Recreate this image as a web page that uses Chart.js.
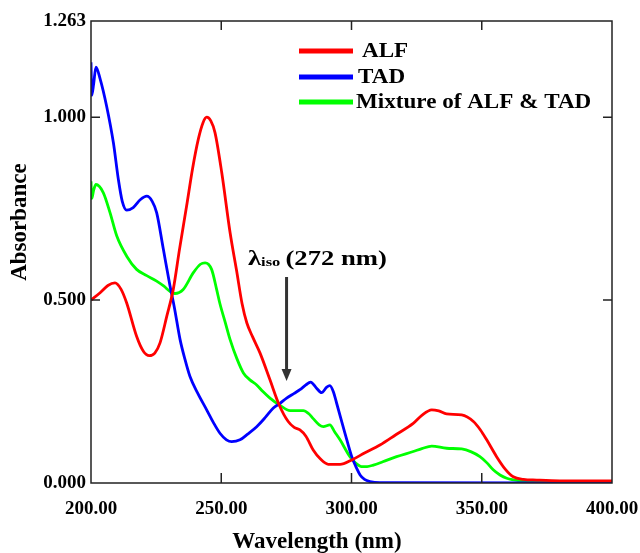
<!DOCTYPE html>
<html>
<head>
<meta charset="utf-8">
<script src="https://cdn.jsdelivr.net/npm/chart.js@4.4.1/dist/chart.umd.min.js"></script>
<style>
    html, body { margin: 0; padding: 0; background: #fff; }
</style>
</head>
<body>
<canvas id="chart" width="640" height="553"></canvas>
<script>
// data
const alfWl = [200, 203.5, 206.5, 209.2, 211.5, 213.7, 217.5, 220.1, 222.4, 224.5, 226.5, 229.1, 231.6, 234, 236.7, 239, 241.2, 243, 244.4, 246, 247.6, 250.2, 253.4, 255.9, 258, 259.8, 262, 264.9, 268.7, 272.2, 275.7, 278, 280.2, 282.5, 285.3, 288, 291.1, 295.6, 300.1, 305, 310.9, 317, 323.7, 327, 330.8, 333.5, 336.5, 342.3, 346.8, 349.5, 351.9, 355.7, 359, 362.1, 366, 371.1, 380, 400]
const alfAbs = [0.50, 0.52, 0.54, 0.547, 0.53, 0.492, 0.401, 0.36, 0.348, 0.355, 0.383, 0.456, 0.53, 0.64, 0.757, 0.86, 0.94, 0.985, 1.0, 0.99, 0.958, 0.848, 0.684, 0.58, 0.49, 0.438, 0.40, 0.355, 0.282, 0.214, 0.168, 0.152, 0.145, 0.128, 0.090, 0.066, 0.051, 0.051, 0.063, 0.082, 0.104, 0.132, 0.163, 0.185, 0.200, 0.197, 0.189, 0.186, 0.168, 0.145, 0.118, 0.072, 0.038, 0.017, 0.010, 0.008, 0.006, 0.006]

const tadWl = [200, 200.3, 201, 201.9, 203.5, 206, 208.6, 210.5, 212, 213.7, 216.2, 219, 221.4, 223.5, 225.2, 227.8, 230.3, 232, 234.2, 236, 238, 241, 244.4, 247, 249.5, 252, 254, 257.2, 260, 263.6, 267, 270, 272.6, 275.1, 278, 280.2, 282.5, 284.3, 286.5, 288.5, 290.5, 291.7, 293, 294.3, 297.5, 300.1, 302, 303.3, 305, 307.1, 310.9, 400]
const tadAbs = [1.15, 1.06, 1.09, 1.137, 1.105, 1.03, 0.93, 0.83, 0.77, 0.746, 0.753, 0.775, 0.784, 0.77, 0.739, 0.638, 0.54, 0.48, 0.392, 0.34, 0.291, 0.245, 0.2, 0.165, 0.136, 0.118, 0.113, 0.118, 0.133, 0.154, 0.18, 0.205, 0.218, 0.232, 0.245, 0.255, 0.268, 0.276, 0.26, 0.247, 0.262, 0.266, 0.25, 0.218, 0.136, 0.072, 0.04, 0.022, 0.01, 0.004, 0.001, 0]

const mixWl = [200, 200.3, 201, 201.9, 204.7, 207.3, 209.9, 213.7, 217.5, 221.4, 225.2, 228, 230.3, 232.2, 235.4, 239.3, 242, 243.8, 246.3, 248.2, 249.5, 251.5, 253.4, 256, 258.5, 261, 263.6, 266, 268.7, 272.6, 276.4, 279, 281.5, 283.5, 285.3, 287.6, 289.2, 291.7, 293.5, 295.6, 299.4, 301.5, 303.9, 306, 308.4, 312, 317.3, 323.7, 327, 330.8, 336.5, 342.3, 346, 349.3, 352, 354.4, 357, 359.6, 364.7, 370, 400]
const mixAbs = [0.825, 0.778, 0.80, 0.816, 0.794, 0.739, 0.675, 0.62, 0.584, 0.567, 0.552, 0.538, 0.524, 0.518, 0.529, 0.575, 0.598, 0.602, 0.584, 0.53, 0.49, 0.44, 0.392, 0.34, 0.301, 0.282, 0.268, 0.25, 0.232, 0.212, 0.198, 0.198, 0.198, 0.19, 0.176, 0.159, 0.154, 0.159, 0.14, 0.118, 0.072, 0.055, 0.045, 0.045, 0.049, 0.058, 0.072, 0.086, 0.094, 0.101, 0.095, 0.093, 0.085, 0.072, 0.055, 0.036, 0.022, 0.013, 0.006, 0.004, 0.003]

const seriesNames = ['ALF', 'TAD', 'Mixture of ALF & TAD']
const seriesColors = ['#ff0000', '#0000ff', '#00ff00']
const xTickMarks = [250, 300, 350]
const yTicks = [0, 0.5, 1.0, 1.263]
const yTickMarks = [0.5, 1.0]
const isoLabel = '272 nm'
const isoWl = 272

const serif = "'Liberation Serif', 'Times New Roman', serif"

function toPoints(xs, ys) {
    return xs.map((x, i) => ({ x: x, y: ys[i] }))
}

// frame, inward ticks, titles, legend and the isosbestic arrow
const extras = {
    id: 'extras',
    afterDraw(chart) {
        const ctx = chart.ctx
        const area = chart.chartArea
        const xs = chart.scales.x
        const ys = chart.scales.y
        ctx.save()

        ctx.strokeStyle = '#222'
        ctx.lineWidth = 1.5
        ctx.strokeRect(area.left, area.top, area.right - area.left, area.bottom - area.top)
        ctx.beginPath()
        xTickMarks.forEach(v => {
            let px = xs.getPixelForValue(v)
            ctx.moveTo(px, area.bottom); ctx.lineTo(px, area.bottom - 10)
            ctx.moveTo(px, area.top); ctx.lineTo(px, area.top + 9)
        })
        yTickMarks.forEach(v => {
            let py = ys.getPixelForValue(v)
            ctx.moveTo(area.left, py); ctx.lineTo(area.left + 9, py)
            ctx.moveTo(area.right, py); ctx.lineTo(area.right - 9, py)
        })
        ctx.stroke()

        // axis titles
        ctx.fillStyle = '#000'
        ctx.font = 'bold 23px ' + serif
        ctx.textAlign = 'center'
        ctx.textBaseline = 'middle'
        ctx.fillText('Wavelength (nm)', 317, 542)
        ctx.save()
        ctx.translate(20, 222)
        ctx.rotate(-Math.PI / 2)
        ctx.fillText('Absorbance', 0, 0)
        ctx.restore()

        // legend
        ctx.textAlign = 'left'
        const legendY = [51, 77, 102]
        const textX = [362, 358, 356]
        seriesNames.forEach((name, i) => {
            ctx.strokeStyle = seriesColors[i]
            ctx.lineWidth = 5
            ctx.beginPath()
            ctx.moveTo(299, legendY[i]); ctx.lineTo(353, legendY[i])
            ctx.stroke()
            ctx.save()
            ctx.translate(textX[i], legendY[i] + 1)
            ctx.scale(1.1, 1)
            ctx.font = 'bold 21px ' + serif
            ctx.fillStyle = '#000'
            ctx.fillText(name, 0, 0)
            ctx.restore()
        })

        // isosbestic annotation
        let ax = xs.getPixelForValue(isoWl) + 8
        ctx.save()
        ctx.translate(248, 265)
        ctx.scale(1.27, 1)
        ctx.textBaseline = 'alphabetic'
        ctx.font = 'bold 21px ' + serif
        ctx.fillText('\u03bb', 0, 0)
        let w = ctx.measureText('\u03bb').width
        ctx.font = 'bold 13px ' + serif
        ctx.fillText('iso', w, 1)
        w += ctx.measureText('iso').width + 4
        ctx.font = 'bold 21px ' + serif
        ctx.fillText('(' + isoLabel + ')', w, 0)
        ctx.restore()

        ctx.strokeStyle = '#333'
        ctx.fillStyle = '#333'
        ctx.lineWidth = 3
        ctx.beginPath()
        ctx.moveTo(ax, 277); ctx.lineTo(ax, 370)
        ctx.stroke()
        ctx.beginPath()
        ctx.moveTo(ax - 5, 369); ctx.lineTo(ax + 5, 369); ctx.lineTo(ax, 381)
        ctx.closePath()
        ctx.fill()

        ctx.restore()
    }
}

const ctx = document.getElementById('chart').getContext('2d')
new Chart(ctx, {
    type: 'line',
    data: {
        datasets: [
            { label: seriesNames[0], data: toPoints(alfWl, alfAbs), borderColor: seriesColors[0] },
            { label: seriesNames[1], data: toPoints(tadWl, tadAbs), borderColor: seriesColors[1] },
            { label: seriesNames[2], data: toPoints(mixWl, mixAbs), borderColor: seriesColors[2] }
        ]
    },
    options: {
        responsive: false,
        animation: false,
        devicePixelRatio: 1,
        layout: { padding: { left: 0, top: 21, right: 28, bottom: 0 } },
        elements: {
            point: { radius: 0 },
            line: { borderWidth: 2.8, fill: false, cubicInterpolationMode: 'monotone' }
        },
        plugins: {
            legend: { display: false },
            tooltip: { enabled: false }
        },
        scales: {
            x: {
                type: 'linear',
                min: 200,
                max: 400,
                grid: { display: false, drawTicks: false },
                border: { display: false },
                ticks: {
                    stepSize: 50,
                    padding: 15,
                    color: '#000',
                    font: { family: serif, weight: 'bold', size: 19 },
                    callback: v => v.toFixed(2)
                },
                afterFit: scale => {
                    scale.height = 70
                    scale.paddingLeft = 0
                    scale.paddingRight = 0
                }
            },
            y: {
                min: 0,
                max: 1.263,
                grid: { display: false, drawTicks: false },
                border: { display: false },
                afterBuildTicks: scale => { scale.ticks = yTicks.map(v => ({ value: v })) },
                ticks: {
                    padding: 5,
                    color: '#000',
                    font: { family: serif, weight: 'bold', size: 19 },
                    callback: v => v.toFixed(3)
                },
                afterFit: scale => {
                    scale.width = 91
                    scale.paddingTop = 0
                    scale.paddingBottom = 0
                }
            }
        }
    },
    plugins: [extras]
})
</script>
</body>
</html>
